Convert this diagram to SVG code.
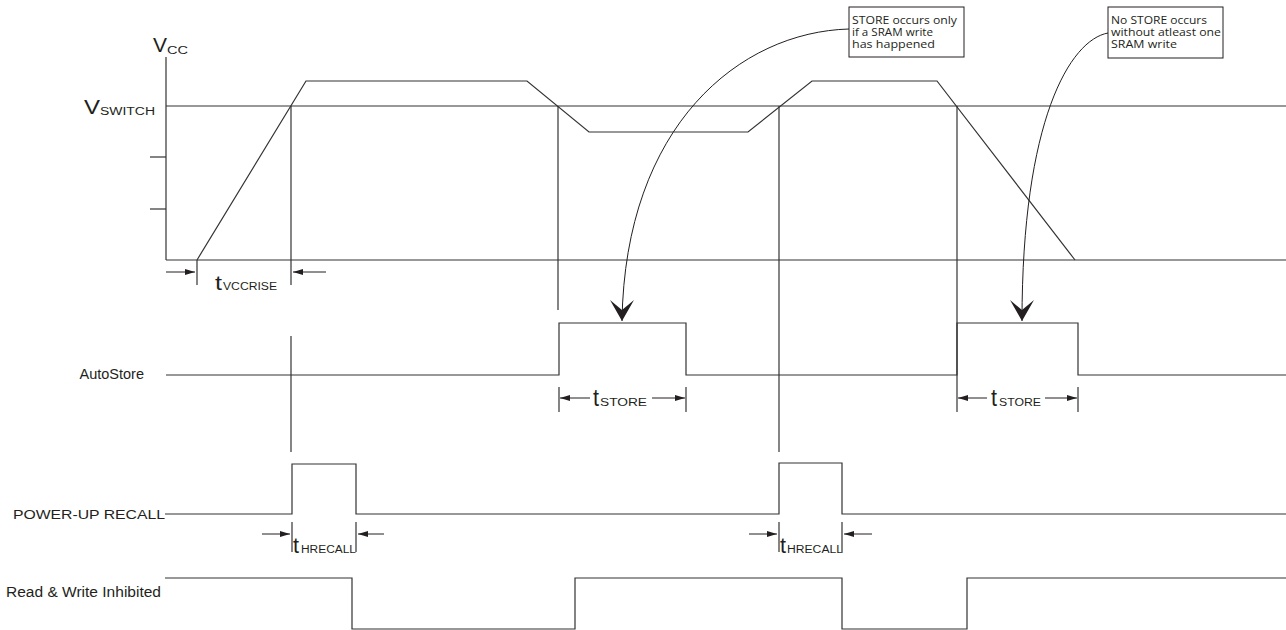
<svg xmlns="http://www.w3.org/2000/svg" width="1286" height="630" viewBox="0 0 1286 630">
<style>
.w{fill:none;stroke:#333;stroke-width:1.2}
.t{fill:#231f20;font-family:"Liberation Sans",Arial,sans-serif}
.c{fill:#231f20;font-family:"Open Sans","Noto Sans",sans-serif;font-size:10px}
.box{fill:#fff;stroke:#231f20;stroke-width:1}
.dim{fill:none;stroke:#231f20;stroke-width:1}
</style>
<defs>
<marker id="ah" viewBox="0 0 10 6" refX="10" refY="3" markerWidth="10" markerHeight="6" markerUnits="userSpaceOnUse" orient="auto">
<path d="M0,0 L10,3 L0,6 z" fill="#231f20"/>
</marker>
<marker id="big" viewBox="0 0 24 22" refX="12" refY="21" markerWidth="24" markerHeight="22" markerUnits="userSpaceOnUse" orient="0">
<path d="M0,0 L12,10 L24,0 L12,21 z" fill="#231f20"/>
</marker>
</defs>
<rect width="1286" height="630" fill="#fff"/>
<g id="vcc-axis">
<line class="w" x1="166" y1="57" x2="166" y2="260"/>
<line class="w" x1="166" y1="260" x2="1286" y2="260"/>
<line class="w" x1="166" y1="106" x2="1286" y2="106"/>
<line class="w" x1="150" y1="157" x2="166" y2="157"/>
<line class="w" x1="150" y1="209" x2="166" y2="209"/>
<text class="t" x="153" y="52" font-size="21" textLength="14" lengthAdjust="spacingAndGlyphs">V</text>
<text class="t" x="167" y="54" font-size="10" textLength="21" lengthAdjust="spacingAndGlyphs">CC</text>
<text class="t" x="84" y="114" font-size="21" textLength="16" lengthAdjust="spacingAndGlyphs">V</text>
<text class="t" x="100" y="115" font-size="10" textLength="55" lengthAdjust="spacingAndGlyphs">SWITCH</text>
</g>
<g id="vcc-wave">
<polyline class="w" points="197,260 306,81 527,81 589,132 748,132 812,81 937,81 1075,260"/>
</g>
<g id="autostore">
<text class="t" x="144" y="379" font-size="14.5" text-anchor="end">AutoStore</text>
<polyline class="w" points="166,375 559,375 559,323 686,323 686,375 957,375 957,323 1078,323 1078,375 1286,375"/>
</g>
<g id="power-up-recall">
<text class="t" x="13" y="519" font-size="13" textLength="152" lengthAdjust="spacingAndGlyphs">POWER-UP RECALL</text>
<polyline class="w" points="165,514 292,514 292,464 356,464 356,514 779,514 779,463 842,463 842,514 1286,514"/>
</g>
<g id="read-write-inhibited">
<text class="t" x="6" y="597" font-size="14" textLength="155" lengthAdjust="spacingAndGlyphs">Read &amp; Write Inhibited</text>
<polyline class="w" points="165,578 352,578 352,629 575,629 575,578 842,578 842,629 967,629 967,578 1286,578"/>
</g>
<g id="guides">
<line class="w" x1="197" y1="260" x2="197" y2="285"/>
<line class="w" x1="291" y1="106" x2="291" y2="285"/>
<line class="w" x1="291" y1="336" x2="291" y2="452"/>
<line class="w" x1="558" y1="106" x2="558" y2="310"/>
<line class="w" x1="779" y1="106" x2="779" y2="452"/>
<line class="w" x1="957" y1="106" x2="957" y2="412"/>
<line class="w" x1="559" y1="387" x2="559" y2="412"/>
<line class="w" x1="686" y1="387" x2="686" y2="412"/>
<line class="w" x1="1078" y1="387" x2="1078" y2="412"/>
<line class="w" x1="292" y1="522" x2="292" y2="552"/>
<line class="w" x1="356" y1="522" x2="356" y2="552"/>
<line class="w" x1="779" y1="522" x2="779" y2="552"/>
<line class="w" x1="842" y1="522" x2="842" y2="552"/>
</g>
<g id="timing-labels">
<line class="dim" x1="166" y1="272" x2="195" y2="272" marker-end="url(#ah)"/>
<line class="dim" x1="326" y1="272" x2="293" y2="272" marker-end="url(#ah)"/>
<text class="t" x="215" y="290" font-size="20" textLength="7" lengthAdjust="spacingAndGlyphs">t</text>
<text class="t" x="223" y="290" font-size="10" textLength="54" lengthAdjust="spacingAndGlyphs">VCCRISE</text>
<line class="dim" x1="590" y1="398" x2="560" y2="398" marker-end="url(#ah)"/>
<line class="dim" x1="652" y1="398" x2="685" y2="398" marker-end="url(#ah)"/>
<text class="t" x="593" y="406" font-size="23" textLength="6" lengthAdjust="spacingAndGlyphs">t</text>
<text class="t" x="600" y="406" font-size="10.5" textLength="47" lengthAdjust="spacingAndGlyphs">STORE</text>
<line class="dim" x1="987" y1="398" x2="958" y2="398" marker-end="url(#ah)"/>
<line class="dim" x1="1045" y1="398" x2="1077" y2="398" marker-end="url(#ah)"/>
<text class="t" x="991" y="406" font-size="23" textLength="6" lengthAdjust="spacingAndGlyphs">t</text>
<text class="t" x="999" y="406" font-size="10.5" textLength="42" lengthAdjust="spacingAndGlyphs">STORE</text>
<line class="dim" x1="262" y1="534" x2="290" y2="534" marker-end="url(#ah)"/>
<line class="dim" x1="384" y1="534" x2="358" y2="534" marker-end="url(#ah)"/>
<text class="t" x="293" y="553" font-size="22" textLength="6" lengthAdjust="spacingAndGlyphs">t</text>
<text class="t" x="301" y="553" font-size="10" textLength="55" lengthAdjust="spacingAndGlyphs">HRECALL</text>
<line class="dim" x1="749" y1="534" x2="777" y2="534" marker-end="url(#ah)"/>
<line class="dim" x1="872" y1="534" x2="844" y2="534" marker-end="url(#ah)"/>
<text class="t" x="780" y="553" font-size="22" textLength="6" lengthAdjust="spacingAndGlyphs">t</text>
<text class="t" x="787" y="553" font-size="10" textLength="56" lengthAdjust="spacingAndGlyphs">HRECALL</text>
</g>
<g id="connectors">
<path class="dim" d="M849,29 C740,32 625,125 622,321" marker-end="url(#big)"/>
<path class="dim" d="M1108,33 C1070,40 1022,120 1022,321" marker-end="url(#big)"/>
</g>
<g id="callout-store">
<rect class="box" x="849" y="7" width="115" height="50"/>
<text class="c" x="852" y="24" textLength="105" lengthAdjust="spacingAndGlyphs">STORE occurs only</text>
<text class="c" x="852" y="36" textLength="81" lengthAdjust="spacingAndGlyphs">if a SRAM write</text>
<text class="c" x="852" y="48" textLength="83" lengthAdjust="spacingAndGlyphs">has happened</text>
</g>
<g id="callout-nostore">
<rect class="box" x="1108" y="7" width="115" height="51"/>
<text class="c" x="1111" y="24" textLength="96" lengthAdjust="spacingAndGlyphs">No STORE occurs</text>
<text class="c" x="1111" y="36" textLength="110" lengthAdjust="spacingAndGlyphs">without atleast one</text>
<text class="c" x="1111" y="48" textLength="66" lengthAdjust="spacingAndGlyphs">SRAM write</text>
</g>
</svg>
